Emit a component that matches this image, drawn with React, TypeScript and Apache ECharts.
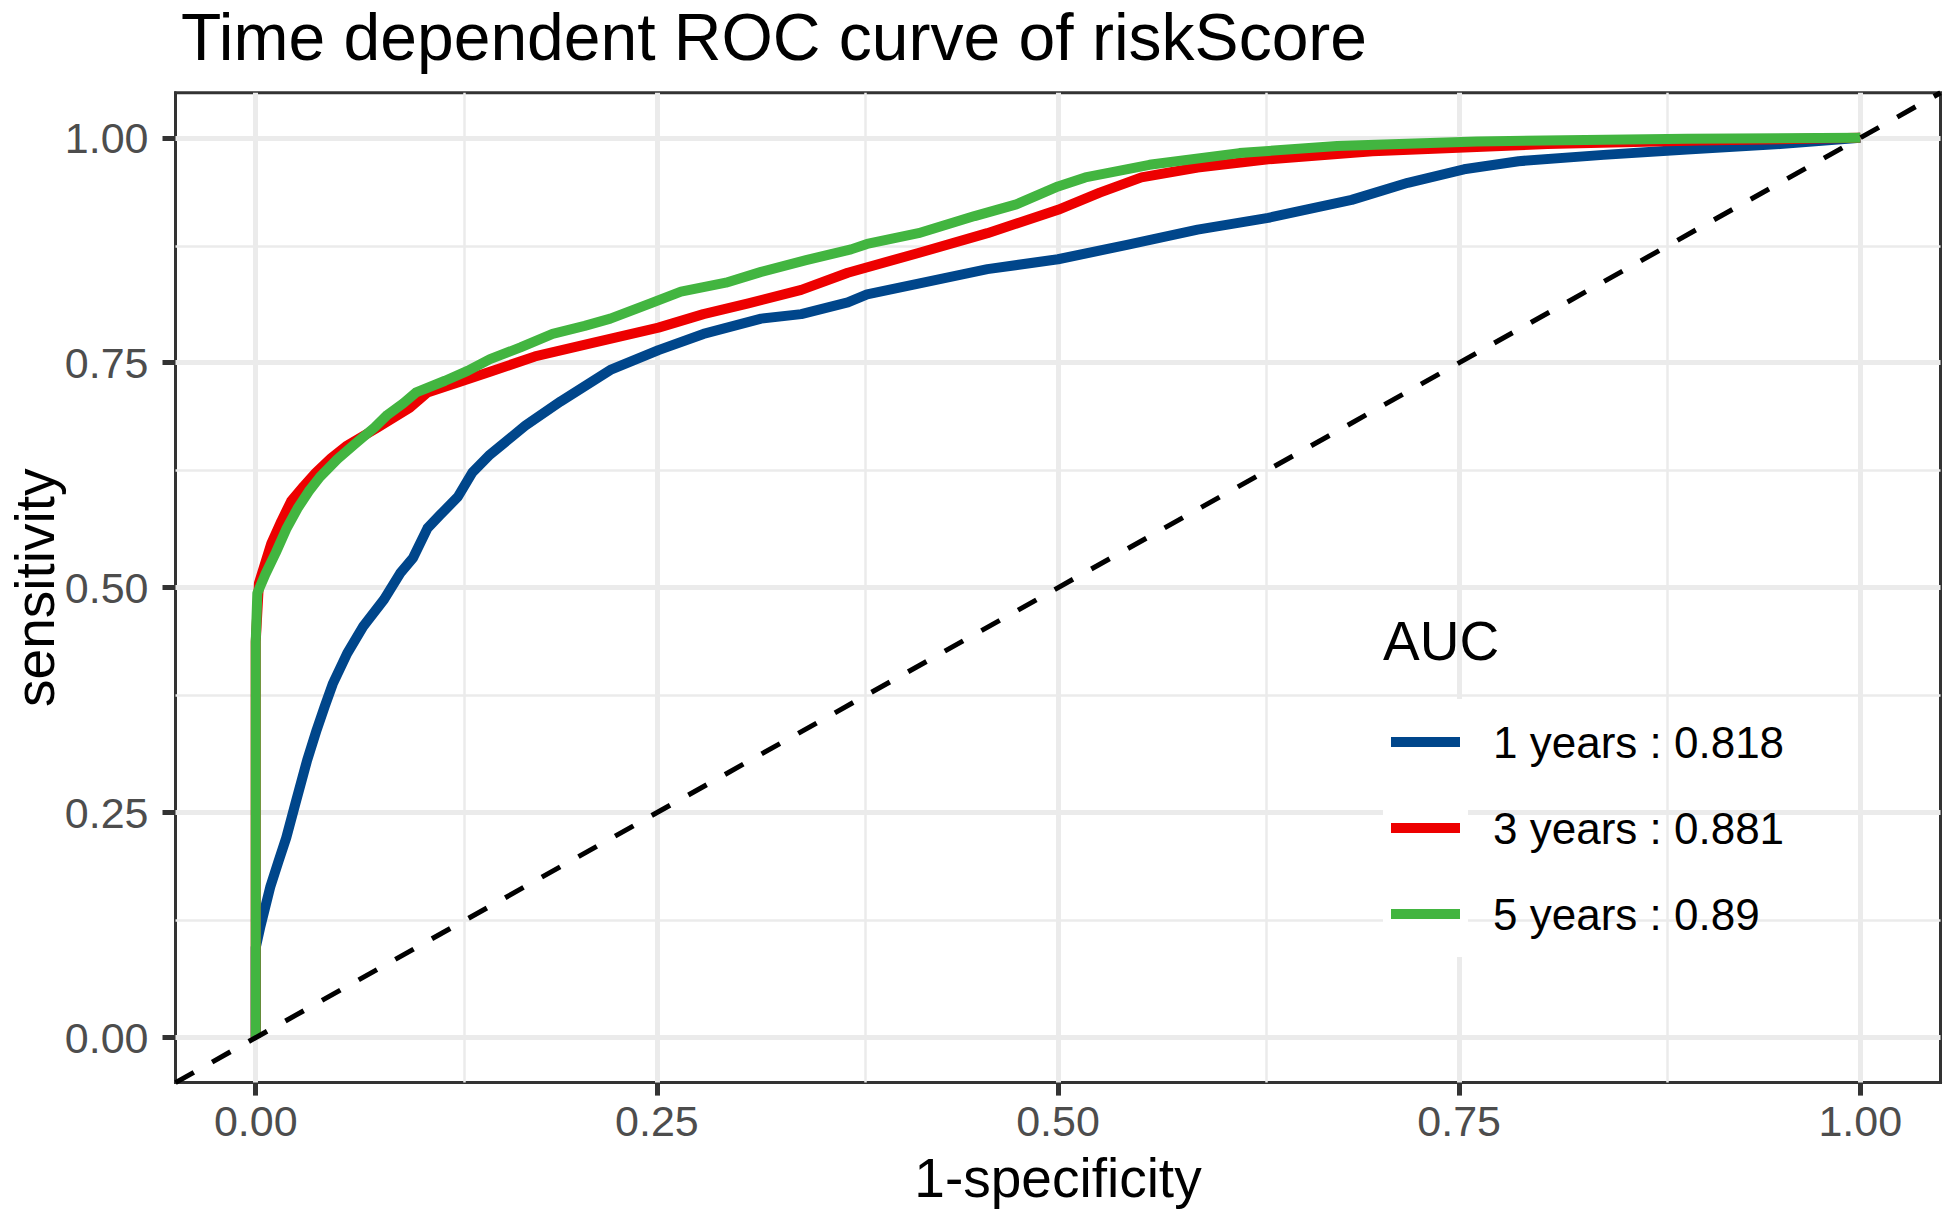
import React, { useEffect, useRef } from "react";
import * as echarts from "echarts";

const TITLE = "Time dependent ROC curve of riskScore";
const X_NAME = "1-specificity";
const Y_NAME = "sensitivity";
const LEGEND_TITLE = "AUC";
const SERIES_NAMES = ["1 years : 0.818", "3 years : 0.881", "5 years : 0.89"];
const SERIES_COLORS = ["#00468B", "#ED0000", "#42B540"];
const AXIS_LIMITS = [-0.05, 1.05];
const TICKS = [0, 0.25, 0.5, 0.75, 1];
const MINOR_BREAKS = [0.125, 0.375, 0.625, 0.875];

// [1-specificity, sensitivity]
const roc1Year: [number, number][] = [
  [0, 0], [0, 0.1], [0.003, 0.124], [0.009, 0.167], [0.014, 0.195], [0.019, 0.222],
  [0.025, 0.262], [0.032, 0.308], [0.038, 0.342], [0.043, 0.368], [0.048, 0.393],
  [0.057, 0.427], [0.067, 0.457], [0.08, 0.487], [0.09, 0.516], [0.098, 0.533],
  [0.107, 0.566], [0.115, 0.581], [0.126, 0.601], [0.135, 0.628], [0.146, 0.648],
  [0.168, 0.68], [0.19, 0.707], [0.221, 0.742], [0.251, 0.764], [0.279, 0.782],
  [0.315, 0.799], [0.34, 0.804], [0.369, 0.817], [0.381, 0.826], [0.413, 0.838],
  [0.456, 0.854], [0.5, 0.865], [0.543, 0.881], [0.587, 0.898], [0.631, 0.911],
  [0.683, 0.931], [0.718, 0.95], [0.753, 0.965], [0.787, 0.974], [0.84, 0.981],
  [0.892, 0.987], [0.95, 0.993], [1, 1],
];

const roc3Year: [number, number][] = [
  [0, 0], [0, 0.44], [0.002, 0.505], [0.0097, 0.549], [0.016, 0.574], [0.022, 0.596],
  [0.03, 0.613], [0.0375, 0.628], [0.047, 0.644], [0.057, 0.658], [0.076, 0.678],
  [0.096, 0.7], [0.107, 0.717], [0.124, 0.727], [0.146, 0.74], [0.174, 0.757],
  [0.21, 0.772], [0.251, 0.789], [0.279, 0.804], [0.307, 0.816], [0.34, 0.831],
  [0.369, 0.85], [0.413, 0.872], [0.456, 0.894], [0.5, 0.92], [0.526, 0.939],
  [0.552, 0.956], [0.587, 0.967], [0.631, 0.976], [0.696, 0.985], [0.805, 0.993],
  [0.9, 0.997], [1, 1],
];

const roc5Year: [number, number][] = [
  [0, 0], [0, 0.44], [0.001, 0.494], [0.006, 0.515], [0.0125, 0.539], [0.019, 0.565],
  [0.026, 0.588], [0.033, 0.607], [0.04, 0.623], [0.051, 0.643], [0.062, 0.66],
  [0.074, 0.678], [0.082, 0.692], [0.092, 0.705], [0.1, 0.717], [0.118, 0.73],
  [0.132, 0.741], [0.146, 0.754], [0.165, 0.767], [0.185, 0.782], [0.205, 0.791],
  [0.221, 0.799], [0.246, 0.816], [0.265, 0.829], [0.293, 0.839], [0.315, 0.851],
  [0.343, 0.864], [0.371, 0.876], [0.381, 0.882], [0.413, 0.894], [0.448, 0.913],
  [0.474, 0.926], [0.5, 0.946], [0.517, 0.956], [0.557, 0.97], [0.613, 0.983],
  [0.674, 0.991], [0.761, 0.996], [0.892, 0.999], [1, 1],
];

const CURVES = [roc1Year, roc3Year, roc5Year];

const FONT = "'Liberation Sans', Arial, Helvetica, sans-serif";

export default function App() {
  const ref = useRef<HTMLDivElement>(null);

  useEffect(() => {
    if (!ref.current) return;
    const chart = echarts.init(ref.current, null, { renderer: "svg" });
    const [lo, hi] = AXIS_LIMITS;

    const gridLines: any[] = [
      ...TICKS.map((v) => ({ xAxis: v, lineStyle: { width: 5 } })),
      ...MINOR_BREAKS.map((v) => ({ xAxis: v, lineStyle: { width: 2.5 } })),
      ...TICKS.map((v) => ({ yAxis: v, lineStyle: { width: 5 } })),
      ...MINOR_BREAKS.map((v) => ({ yAxis: v, lineStyle: { width: 2.5 } })),
    ];

    const axisCommon = (name: string, gap: number, labelMargin: number, nameLineHeight: number) => ({
      type: "value",
      min: lo,
      max: hi,
      name,
      nameLocation: "middle",
      nameGap: gap,
      nameMoveOverlap: false,
      nameTextStyle: { fontSize: 55, color: "#000000", fontFamily: FONT, lineHeight: nameLineHeight },
      splitLine: { show: false },
      axisLine: { show: true, onZero: false, lineStyle: { color: "#333333", width: 3 } },
      axisTick: {
        show: true,
        length: 13,
        customValues: TICKS,
        lineStyle: { color: "#333333", width: 5 },
      },
      axisLabel: {
        customValues: TICKS,
        formatter: (v: number) => v.toFixed(2),
        fontSize: 43,
        color: "#4d4d4d",
        fontFamily: FONT,
        margin: labelMargin,
      },
    });

    chart.setOption({
      animation: false,
      backgroundColor: "#ffffff",
      textStyle: { fontFamily: FONT },
      title: [
        {
          text: TITLE,
          left: 181,
          top: 7,
          padding: 0,
          textStyle: {
            fontSize: 66,
            lineHeight: 60,
            fontWeight: "normal",
            color: "#000000",
            fontFamily: FONT,
          },
        },
        {
          text: LEGEND_TITLE,
          left: 1383,
          top: 613,
          padding: 0,
          textStyle: { fontSize: 55, fontWeight: "normal", color: "#000000", fontFamily: FONT },
        },
      ],
      grid: {
        left: 175.5,
        right: 5.5,
        top: 92.8,
        bottom: 130.4,
        show: true,
        borderColor: "#333333",
        borderWidth: 3,
        backgroundColor: "#ffffff",
        containLabel: false,
        outerBoundsMode: "none",
      },
      xAxis: axisCommon(X_NAME, 65, 17, 61),
      yAxis: axisCommon(Y_NAME, 118, 27, 46),
      legend: {
        orient: "vertical",
        left: 1391,
        top: 717,
        padding: 0,
        itemGap: 36,
        itemWidth: 69,
        itemHeight: 10,
        icon: "rect",
        selectedMode: false,
        data: SERIES_NAMES,
        itemStyle: { borderWidth: 0 },
        textStyle: {
          fontSize: 44,
          color: "#000000",
          fontFamily: FONT,
          lineHeight: 50,
          padding: [0, 0, 0, 28],
        },
      },
      graphic: [
        {
          type: "rect",
          x: 1383,
          y: 699,
          z: 2,
          silent: true,
          shape: { x: 0, y: 0, width: 85, height: 258 },
          style: { fill: "#ffffff" },
        },
      ],
      series: [
        ...CURVES.map((d, i) => ({
          type: "line",
          name: SERIES_NAMES[i],
          data: d,
          symbol: "none",
          showSymbol: false,
          silent: true,
          z: 3 + i,
          itemStyle: { color: SERIES_COLORS[i] },
          lineStyle: { color: SERIES_COLORS[i], width: 10, cap: "butt", join: "round" },
        })),
        {
          type: "line",
          name: "reference",
          data: [
            [lo, lo],
            [hi, hi],
          ],
          symbol: "none",
          showSymbol: false,
          silent: true,
          z: 6,
          lineStyle: { color: "#000000", width: 5, type: [21, 21] },
          markLine: {
            silent: true,
            z: 1,
            symbol: ["none", "none"],
            label: { show: false },
            emphasis: { disabled: true },
            lineStyle: { color: "#ebebeb", type: "solid", width: 5 },
            data: gridLines,
          },
        },
      ],
    });

    return () => chart.dispose();
  }, []);

  return (
    <div
      ref={ref}
      style={{ position: "absolute", left: 0, top: 0, width: 1946, height: 1213 }}
    />
  );
}
